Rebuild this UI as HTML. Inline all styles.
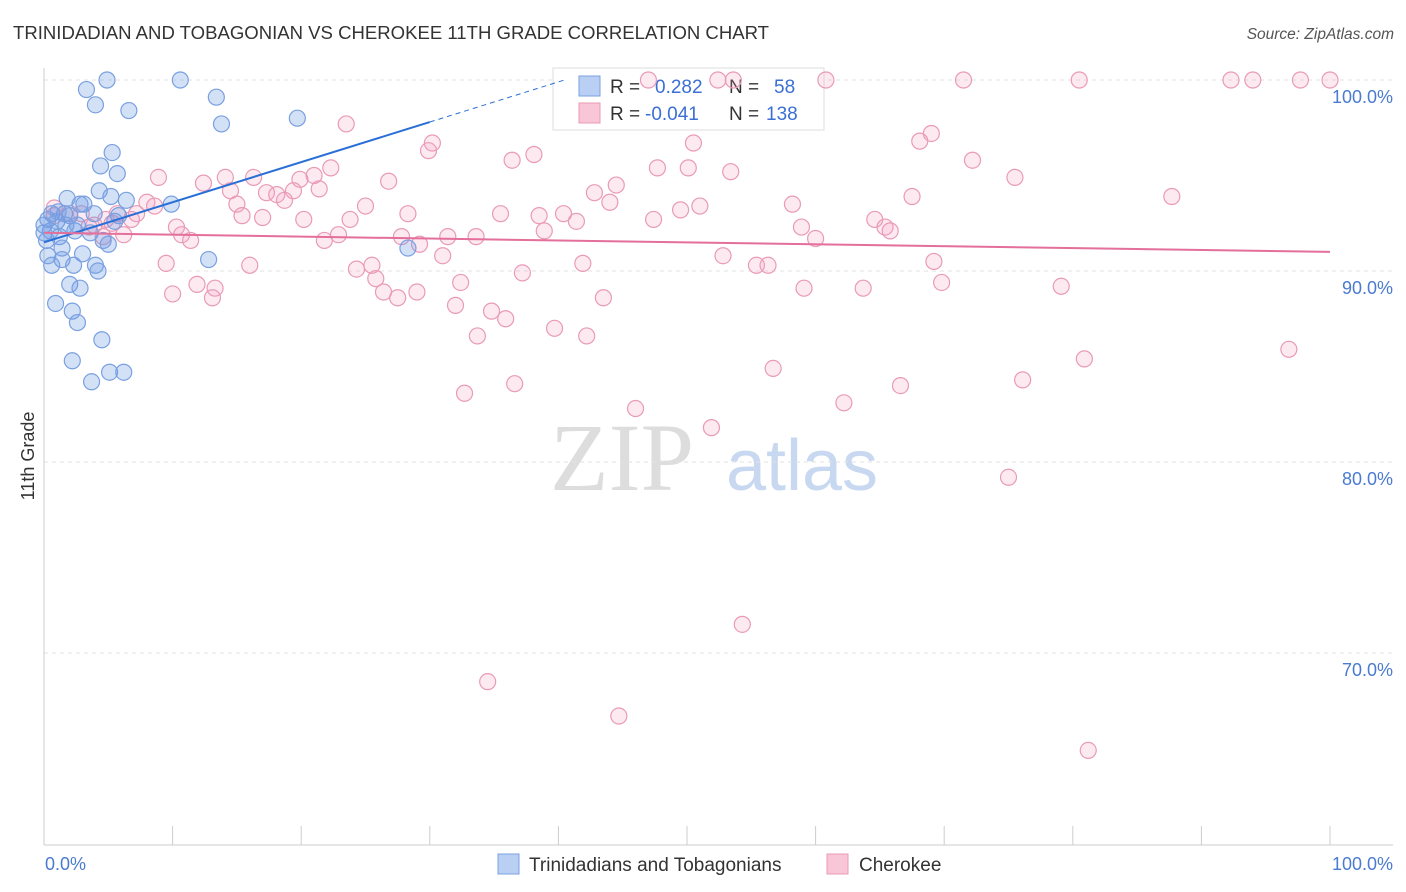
<!DOCTYPE html>
<html><head><meta charset="utf-8"><style>
body{margin:0;background:#fff;font-family:"Liberation Sans",sans-serif;}
svg{display:block}
</style></head><body>
<svg id="chart" width="1406" height="892">
<text x="13" y="39" font-size="18.5" fill="#333" textLength="756" lengthAdjust="spacingAndGlyphs">TRINIDADIAN AND TOBAGONIAN VS CHEROKEE 11TH GRADE CORRELATION CHART</text>
<text x="1394" y="39" font-size="15.5" font-style="italic" fill="#555" text-anchor="end">Source: ZipAtlas.com</text>
<g>
<text x="622" y="490" font-family="Liberation Serif,serif" font-size="96" fill="#ddd" text-anchor="middle">ZIP</text>
<text x="802" y="490" font-size="72" fill="#c8d8f0" text-anchor="middle">atlas</text>
</g>
<g id="grid"></g>
<g id="axes"></g>
<g>
<rect x="553" y="68" width="271" height="62" fill="#fff" stroke="#ddd"/>
<rect x="579" y="76" width="21" height="20" fill="#b9d0f4" stroke="#7aa0e0"/>
<rect x="579" y="103" width="21" height="20" fill="#f8c6d6" stroke="#e89ab5"/>
<text x="610" y="93" font-size="19" fill="#333">R =</text>
<text x="655" y="93" font-size="19" fill="#3b6fd4">0.282</text>
<text x="729" y="93" font-size="19" fill="#333">N =</text>
<text x="774" y="93" font-size="19" fill="#3b6fd4">58</text>
<text x="610" y="120" font-size="19" fill="#333">R =</text>
<text x="645" y="120" font-size="19" fill="#3b6fd4">-0.041</text>
<text x="729" y="120" font-size="19" fill="#333">N =</text>
<text x="766" y="120" font-size="19" fill="#3b6fd4">138</text>
</g>
<g id="pink"></g>
<g id="blue"></g>
<g id="trends"></g>
<text transform="translate(34,456) rotate(-90)" font-size="18" fill="#333" text-anchor="middle">11th Grade</text>
<text x="45" y="870" font-size="18" fill="#4a7bd0">0.0%</text>
<text x="1393" y="870" font-size="18" fill="#4a7bd0" text-anchor="end">100.0%</text>
<g>
<rect x="498" y="854" width="21" height="20" fill="#b9d0f4" stroke="#7aa0e0"/>
<text x="529" y="871" font-size="19" fill="#333">Trinidadians and Tobagonians</text>
<rect x="827" y="854" width="21" height="20" fill="#f8c6d6" stroke="#e89ab5"/>
<text x="859" y="871" font-size="19" fill="#333">Cherokee</text>
</g>
</svg>
<script>
const yTicks=[100,90,80,70];
const yTickLabels=["100.0%","90.0%","80.0%","70.0%"];
const blueX=[4.9,10.6,3.3,13.4,4.0,6.6,13.8,19.7,5.3,4.4,5.7,4.3,5.2,6.4,1.8,9.9,2.8,3.1,1.6,2.0,0.6,0.3,1.0,2.4,3.6,5.5,1.2,4.6,0.2,5.0,1.4,3.0,0.3,1.4,2.3,12.8,0.6,4.0,4.2,2.0,2.8,0.9,2.2,2.6,4.5,2.2,5.1,6.2,3.7,28.3,0.0,0.5,1.7,1.1,3.9,5.8,0.0,2.6];
const blueY=[100,100,99.5,99.1,98.7,98.4,97.7,98.0,96.2,95.5,95.1,94.2,93.9,93.7,93.8,93.5,93.5,93.5,93.0,92.9,93.0,92.7,92.6,92.1,92.0,92.6,91.8,91.6,91.6,91.4,91.2,90.9,90.8,90.6,90.3,90.6,90.3,90.3,90.0,89.3,89.1,88.3,87.9,87.3,86.4,85.3,84.7,84.7,84.2,91.2,92.4,92.1,92.4,93.1,93.0,92.9,92.0,92.4];
const pinkX=[47.0,52.4,53.6,60.8,71.5,80.5,92.3,94.0,97.7,100.0,23.5,69.0,30.2,68.1,29.9,50.5,38.1,36.4,72.2,22.3,47.7,50.1,53.4,8.9,14.1,16.3,21.0,75.5,26.8,12.4,19.9,44.5,14.5,42.8,17.3,19.4,18.1,21.4,67.5,87.7,18.7,8.0,8.6,15.0,25.0,44.0,58.2,51.0,49.5,5.7,7.2,6.8,0.8,17.0,15.4,20.2,23.8,28.3,35.5,38.5,40.4,41.4,47.4,64.6,65.4,65.8,58.9,60.0,0.8,2.0,2.9,4.8,5.3,3.5,3.9,6.2,4.6,10.3,10.7,11.4,21.8,22.9,27.8,29.2,31.4,33.6,38.9,31.0,9.5,16.0,24.3,25.5,37.2,41.9,52.8,55.4,56.3,69.2,25.8,26.4,27.5,29.0,32.4,11.9,13.3,13.1,10.0,43.5,59.1,63.7,69.8,79.1,32.0,34.8,35.9,33.7,39.7,42.2,96.8,80.9,56.7,36.6,76.1,66.6,32.7,62.2,46.0,51.9,75.0,54.3,34.5,44.7,81.2];
const pinkY=[100,100,100,100,100,100,100,100,100,100,97.7,97.2,96.7,96.8,96.3,96.7,96.1,95.8,95.8,95.4,95.4,95.4,95.2,94.9,94.9,94.9,95.0,94.9,94.7,94.6,94.8,94.5,94.2,94.1,94.1,94.2,94.0,94.3,93.9,93.9,93.7,93.6,93.4,93.5,93.4,93.6,93.5,93.4,93.2,93.0,93.0,92.7,93.3,92.8,92.9,92.7,92.7,93.0,93.0,92.9,93.0,92.6,92.7,92.7,92.3,92.1,92.3,91.7,92.9,93.0,93.0,92.7,92.5,92.3,92.4,91.9,91.8,92.3,91.9,91.6,91.6,91.9,91.8,91.4,91.8,91.8,92.1,90.8,90.4,90.3,90.1,90.3,89.9,90.4,90.8,90.3,90.3,90.5,89.6,88.9,88.6,88.9,89.4,89.3,89.1,88.6,88.8,88.6,89.1,89.1,89.4,89.2,88.2,87.9,87.5,86.6,87.0,86.6,85.9,85.4,84.9,84.1,84.3,84.0,83.6,83.1,82.8,81.8,79.2,71.5,68.5,66.7,64.9];
const blueTrend=[91.5,0.21];
const pinkTrend=[92.0,-0.01];
const NS="http://www.w3.org/2000/svg";
const X=v=>44+v*12.86;
const Y=v=>80+(100-v)*19.1;
function mk(tag,attrs,parent){const e=document.createElementNS(NS,tag);for(const k in attrs)e.setAttribute(k,attrs[k]);document.getElementById(parent).appendChild(e);return e;}
yTicks.forEach((t,i)=>{
 const l=mk('line',{x1:44,x2:1393,y1:Y(t),y2:Y(t),stroke:'#e2e2e2','stroke-dasharray':'4,4'},'grid');
 
 
 const tx=mk('text',{x:1393,y:Y(t)+23,'font-size':18,fill:'#4a7bd0','text-anchor':'end'},'grid');
 tx.textContent=yTickLabels[i];
 
 
});
const ya=mk('line',{x1:44,x2:44,y1:68,y2:845,stroke:'#ccc'},'axes');


const xa=mk('line',{x1:44,x2:1393,y1:845,y2:845,stroke:'#ccc'},'axes');


for(let i=1;i<=10;i++){
 const t=mk('line',{x1:X(i*10),x2:X(i*10),y1:826,y2:845,stroke:'#ccc'},'axes');
 
 
}
pinkX.forEach((x,i)=>{
 const c=mk('circle',{cx:X(x),cy:Y(pinkY[i]),r:8,fill:'rgba(244,160,190,0.22)',stroke:'#e99ab6','stroke-width':1.2},'pink');
 
 
});
blueX.forEach((x,i)=>{
 const c=mk('circle',{cx:X(x),cy:Y(blueY[i]),r:8,fill:'rgba(110,155,230,0.3)',stroke:'#7aa0e0','stroke-width':1.2},'blue');
 
 
});
const bEnd=30, bDash=(100-blueTrend[0])/blueTrend[1];
const bl=mk('line',{x1:X(0),y1:Y(blueTrend[0]),x2:X(bEnd),y2:Y(blueTrend[0]+blueTrend[1]*bEnd),stroke:'#2a6fd6','stroke-width':2},'trends');


const bd=mk('line',{x1:X(bEnd),y1:Y(blueTrend[0]+blueTrend[1]*bEnd),x2:X(bDash),y2:Y(100),stroke:'#2a6fd6','stroke-width':1,'stroke-dasharray':'5,4'},'trends');


const pl=mk('line',{x1:X(0),y1:Y(pinkTrend[0]),x2:X(100),y2:Y(pinkTrend[0]+pinkTrend[1]*100),stroke:'#e36f9a','stroke-width':2},'trends');


</script>
</body></html>
